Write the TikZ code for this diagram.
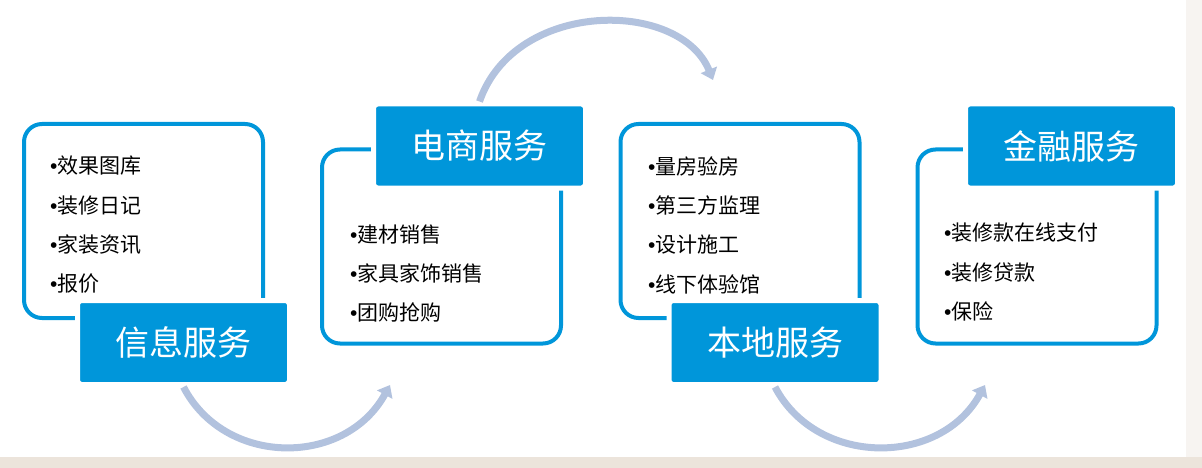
\documentclass[tikz,border=0pt]{standalone}
\usepackage{fontspec}
\setmainfont{Noto Sans CJK SC}
\newfontfamily\latinfont{Liberation Sans}
\newcommand\bul{{\latinfont •}}
\usetikzlibrary{arrows.meta,positioning}
\definecolor{boxblue}{RGB}{0,150,218}
\definecolor{flowgray}{RGB}{178,194,222}
\definecolor{sand}{RGB}{236,228,219}

\begin{document}
\begin{tikzpicture}[x=1pt,y=-1pt,
    frame/.style={draw=boxblue,line width=4pt,rounded corners=18pt,
      minimum width=239pt,minimum height=194pt},
    tag/.style={fill=boxblue,draw=white,line width=5pt,rounded corners=4pt,
      minimum width=212pt,minimum height=84pt,text=white,
      font=\fontsize{34}{34}\selectfont},
    items/.style={anchor=west,align=left,inner sep=0pt,
      font=\fontsize{21}{39.3}\selectfont},
    flow/.style={draw=flowgray,line width=7pt,
      -{Triangle[length=11pt,width=17pt]}}]
      \useasboundingbox (0,0) rectangle (1202,468);
      \fill[sand] (0,457) rectangle (1202,468);
      \fill[sand!40] (1186,0) rectangle (1202,457);
      % outlined boxes
      \node (info)[frame] at (143.5,221) {};
      \node (shop)[frame] at (441.5,246.5) {};
      \node (local)[frame] at (740,221) {};
      \node (money)[frame] at (1037,246.5) {};
      % blue tags
      \node (infotag)[tag] at (183.5,342.5) {信息服务};
      \node (shoptag)[tag] at (479.5,146) {电商服务};
      \node (localtag)[tag] at (775,342.5) {本地服务};
      \node (moneytag)[tag] at (1071.5,146) {金融服务};
      % lists
      \node (infolist)[items] at (50,225) {\bul 效果图库\\\bul 装修日记\\\bul 家装资讯\\\bul 报价};
      \node (shoplist)[items] at (350,273.5) {\bul 建材销售\\\bul 家具家饰销售\\\bul 团购抢购};
      \node (locallist)[items] at (648,225) {\bul 量房验房\\\bul 第三方监理\\\bul 设计施工\\\bul 线下体验馆};
      \node (moneylist)[items] at (944,272) {\bul 装修款在线支付\\\bul 装修贷款\\\bul 保险};
      % curved arrows
      \coordinate (shopin) at (390,385);
      \coordinate (localin) at (713,80);
      \coordinate (moneyin) at (985,385);
      \path[flow] (infotag.south) .. controls (225,467) and (345,467) .. (shopin);
      \path[flow] (shoptag.north) .. controls (515,-1) and (680,-1) .. (localin);
      \path[flow] (localtag.south) .. controls (817,467) and (940,467) .. (moneyin);
    \end{tikzpicture}
\end{document}
